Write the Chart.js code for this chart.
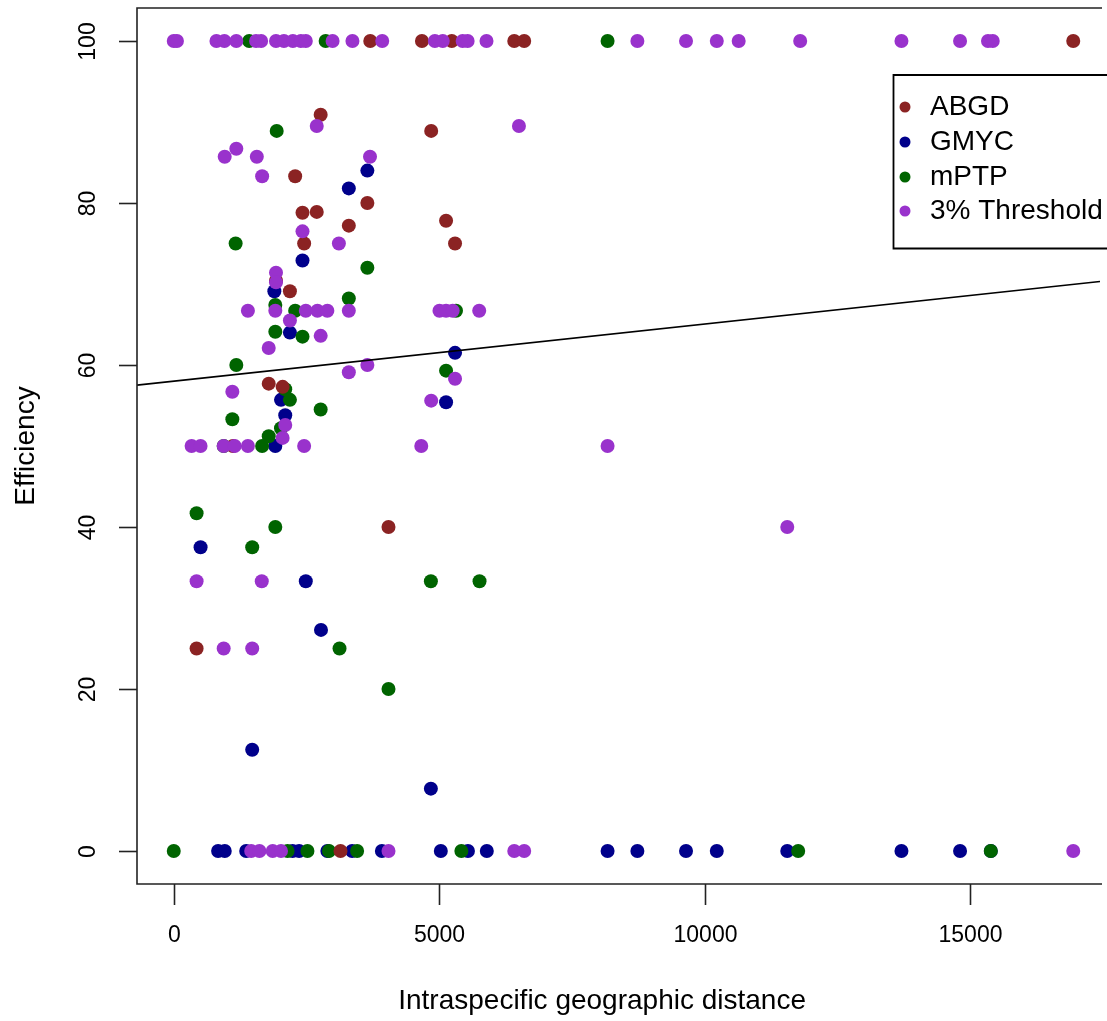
<!DOCTYPE html>
<html>
<head>
<meta charset="utf-8">
<script src="https://cdn.jsdelivr.net/npm/chart.js@4.4.1/dist/chart.umd.min.js"></script>
<style>
html,body{margin:0;padding:0;background:#fff;}
#wrap{width:1107px;height:1021px;position:relative;}
</style>
</head>
<body>
<div id="wrap"><canvas id="c" width="1107" height="1021"></canvas></div>
<script>
// ---- Data ----
const seriesNames = ["ABGD", "GMYC", "mPTP", "3% Threshold"];
const seriesColors = ["#8B2323", "#00008B", "#006400", "#9932CC"];

const abgdX = [3700, 4673, 5234, 6411, 6598, 16935, 2766, 4847, 2286, 3645, 2424, 2692, 3296, 5127, 2455, 5296, 1925, 2187, 1788, 2050, 1115, 4043, 430, 3140];
const abgdY = [100, 100, 100, 100, 100, 100, 90.9, 88.9, 83.3, 80.0, 78.8, 78.9, 77.2, 77.8, 75.0, 75.0, 70.4, 69.1, 57.7, 57.3, 50, 40, 25, 0];

const gmycX = [835, 960, 1364, 2237, 2361, 2892, 3358, 3919, 5028, 5539, 5894, 8168, 8729, 9645, 10224, 11551, 13701, 14804, 15383, 3296, 3645, 2424, 1894, 2187, 5296, 2019, 2099, 5127, 1912, 505, 2486, 2772, 1477, 4841];
const gmycY = [0, 0, 0, 0, 0, 0, 0, 0, 0, 0, 0, 0, 0, 0, 0, 0, 0, 0, 0, 81.8, 84.0, 72.9, 69.1, 64.0, 61.5, 55.7, 53.8, 55.4, 50, 37.5, 33.3, 27.3, 12.5, 7.7];

const mptpX = [1420, 2860, 8168, 0, 2143, 2517, 2923, 3452, 5415, 11757, 15383, 1938, 1165, 3645, 3296, 1912, 2286, 5314, 1912, 2424, 1178, 5127, 2099, 2187, 2766, 1103, 2019, 1788, 1664, 940, 430, 1912, 1477, 4841, 5757, 3121, 4043];
const mptpY = [100, 100, 100, 0, 0, 0, 0, 0, 0, 0, 0, 88.9, 75.0, 72.0, 68.2, 67.4, 66.7, 66.7, 64.1, 63.5, 60.0, 59.3, 57.0, 55.7, 54.5, 53.3, 52.2, 51.2, 50, 50, 41.7, 40.0, 37.5, 33.3, 33.3, 25.0, 20.0];

const thrX = [0, 60, 804, 953, 1178, 1550, 1645, 1925, 2075, 2243, 2393, 2486, 2990, 3364, 3925, 4916, 5065, 5439, 5533, 5888, 8729, 9645, 10224, 10636, 11794, 13701, 14804, 15330, 15420,
              1458, 1613, 1863, 2019, 4043, 6411, 6598, 16935,
              2692, 6499, 1178, 959, 1564, 3695, 1664, 2424, 3109, 1925, 1925,
              1396, 1912, 2486, 2705, 2892, 3296, 5003, 5127, 5252, 5751,
              2187, 2766, 1788, 3296, 3645, 5296, 1103, 4847, 2099, 2050,
              336, 505, 940, 1146, 1396, 2455, 4660, 8168, 11551, 430, 1657, 940, 1477];
const thrY = [100, 100, 100, 100, 100, 100, 100, 100, 100, 100, 100, 100, 100, 100, 100, 100, 100, 100, 100, 100, 100, 100, 100, 100, 100, 100, 100, 100, 100,
              0, 0, 0, 0, 0, 0, 0, 0,
              89.5, 89.5, 86.7, 85.7, 85.7, 85.7, 83.3, 76.5, 75.0, 71.4, 70.2,
              66.7, 66.7, 66.7, 66.7, 66.7, 66.7, 66.7, 66.7, 66.7, 66.7,
              65.5, 63.6, 62.1, 59.1, 60.0, 58.3, 56.7, 55.6, 52.6, 51.0,
              50, 50, 50, 50, 50, 50, 50, 50, 40, 33.3, 33.3, 25, 25];

// regression line: intercept and slope
const fitIntercept = 58.0;
const fitSlope = 0.000706;

const xTicks = [0, 5000, 10000, 15000];
const yTicks = [0, 20, 40, 60, 80, 100];
const xTitle = "Intraspecific geographic distance";
const yTitle = "Efficiency";

const X_MIN = -692, X_MAX = 17439, Y_MIN = -4.07, Y_MAX = 104.07;

// ---- Build datasets ----
function pts(xs, ys){ return xs.map((x,i)=>({x:x, y:ys[i]})); }
const allX = [abgdX, gmycX, mptpX, thrX];
const allY = [abgdY, gmycY, mptpY, thrY];
const orders = [2, 4, 3, 1];
const datasets = seriesNames.map((n,i)=>({
  type:'scatter', label:n, data: pts(allX[i], allY[i]),
  backgroundColor: seriesColors[i], borderWidth:0, pointRadius:7, pointHoverRadius:7, order: orders[i]
}));
datasets.push({
  type:'line', label:'fit', data:[{x:X_MIN, y:fitIntercept + fitSlope*X_MIN},{x:X_MAX, y:fitIntercept + fitSlope*X_MAX}],
  borderColor:'#000', borderWidth:1.6, pointRadius:0, fill:false, order:0
});

const FONT = '"Liberation Sans", Arial, Helvetica, sans-serif';

const axesPlugin = {
  id:'rAxes',
  afterDraw(chart){
    const ctx = chart.ctx, a = chart.chartArea;
    const xs = chart.scales.x, ys = chart.scales.y;
    ctx.save();
    ctx.strokeStyle = '#222'; ctx.lineWidth = 1.6;
    // box (right side clipped)
    ctx.beginPath();
    ctx.moveTo(a.right+2, a.top); ctx.lineTo(a.left, a.top); ctx.lineTo(a.left, a.bottom); ctx.lineTo(a.right+2, a.bottom);
    ctx.stroke();
    ctx.fillStyle = '#000';
    // x ticks
    ctx.font = '23px ' + FONT;
    ctx.textAlign = 'center'; ctx.textBaseline = 'middle';
    xTicks.forEach(v=>{
      const px = Math.round(xs.getPixelForValue(v)) + 0.5;
      ctx.beginPath(); ctx.moveTo(px, a.bottom); ctx.lineTo(px, a.bottom + 21); ctx.stroke();
      ctx.fillText(String(v), px, 936);
    });
    // y ticks
    yTicks.forEach(v=>{
      const py = Math.round(ys.getPixelForValue(v)) + 0.5;
      ctx.beginPath(); ctx.moveTo(a.left, py); ctx.lineTo(a.left - 18, py); ctx.stroke();
      ctx.save(); ctx.translate(89, py); ctx.rotate(-Math.PI/2);
      ctx.fillText(String(v), 0, 0); ctx.restore();
    });
    // titles
    ctx.font = '28px ' + FONT;
    ctx.fillText(xTitle, (xs.getPixelForValue(0)+xs.getPixelForValue(15000))/2 + 30, 1001);
    ctx.save(); ctx.translate(26, ys.getPixelForValue(50)); ctx.rotate(-Math.PI/2);
    ctx.fillText(yTitle, 0, 0); ctx.restore();
    // legend
    ctx.beginPath(); ctx.lineWidth = 1.8; ctx.strokeStyle = '#000';
    ctx.moveTo(1110, 75); ctx.lineTo(893.5, 75); ctx.lineTo(893.5, 248.5); ctx.lineTo(1110, 248.5); ctx.stroke();
    ctx.font = '28px ' + FONT; ctx.textAlign = 'left';
    const rows = [107, 142, 177, 211];
    seriesNames.forEach((n,i)=>{
      ctx.fillStyle = seriesColors[i];
      ctx.beginPath(); ctx.arc(905, rows[i], 5.5, 0, Math.PI*2); ctx.fill();
      ctx.fillStyle = '#000';
      ctx.fillText(n, 930, rows[i]);
    });
    ctx.restore();
  }
};

new Chart(document.getElementById('c'), {
  data:{ datasets },
  options:{
    responsive:false, animation:false,
    layout:{ padding:{ left:137, top:8, right:0, bottom:137 } },
    plugins:{ legend:{display:false}, tooltip:{enabled:false} },
    scales:{
      x:{ type:'linear', min:X_MIN, max:X_MAX, display:false },
      y:{ type:'linear', min:Y_MIN, max:Y_MAX, display:false }
    }
  },
  plugins:[axesPlugin]
});
</script>
</body>
</html>
